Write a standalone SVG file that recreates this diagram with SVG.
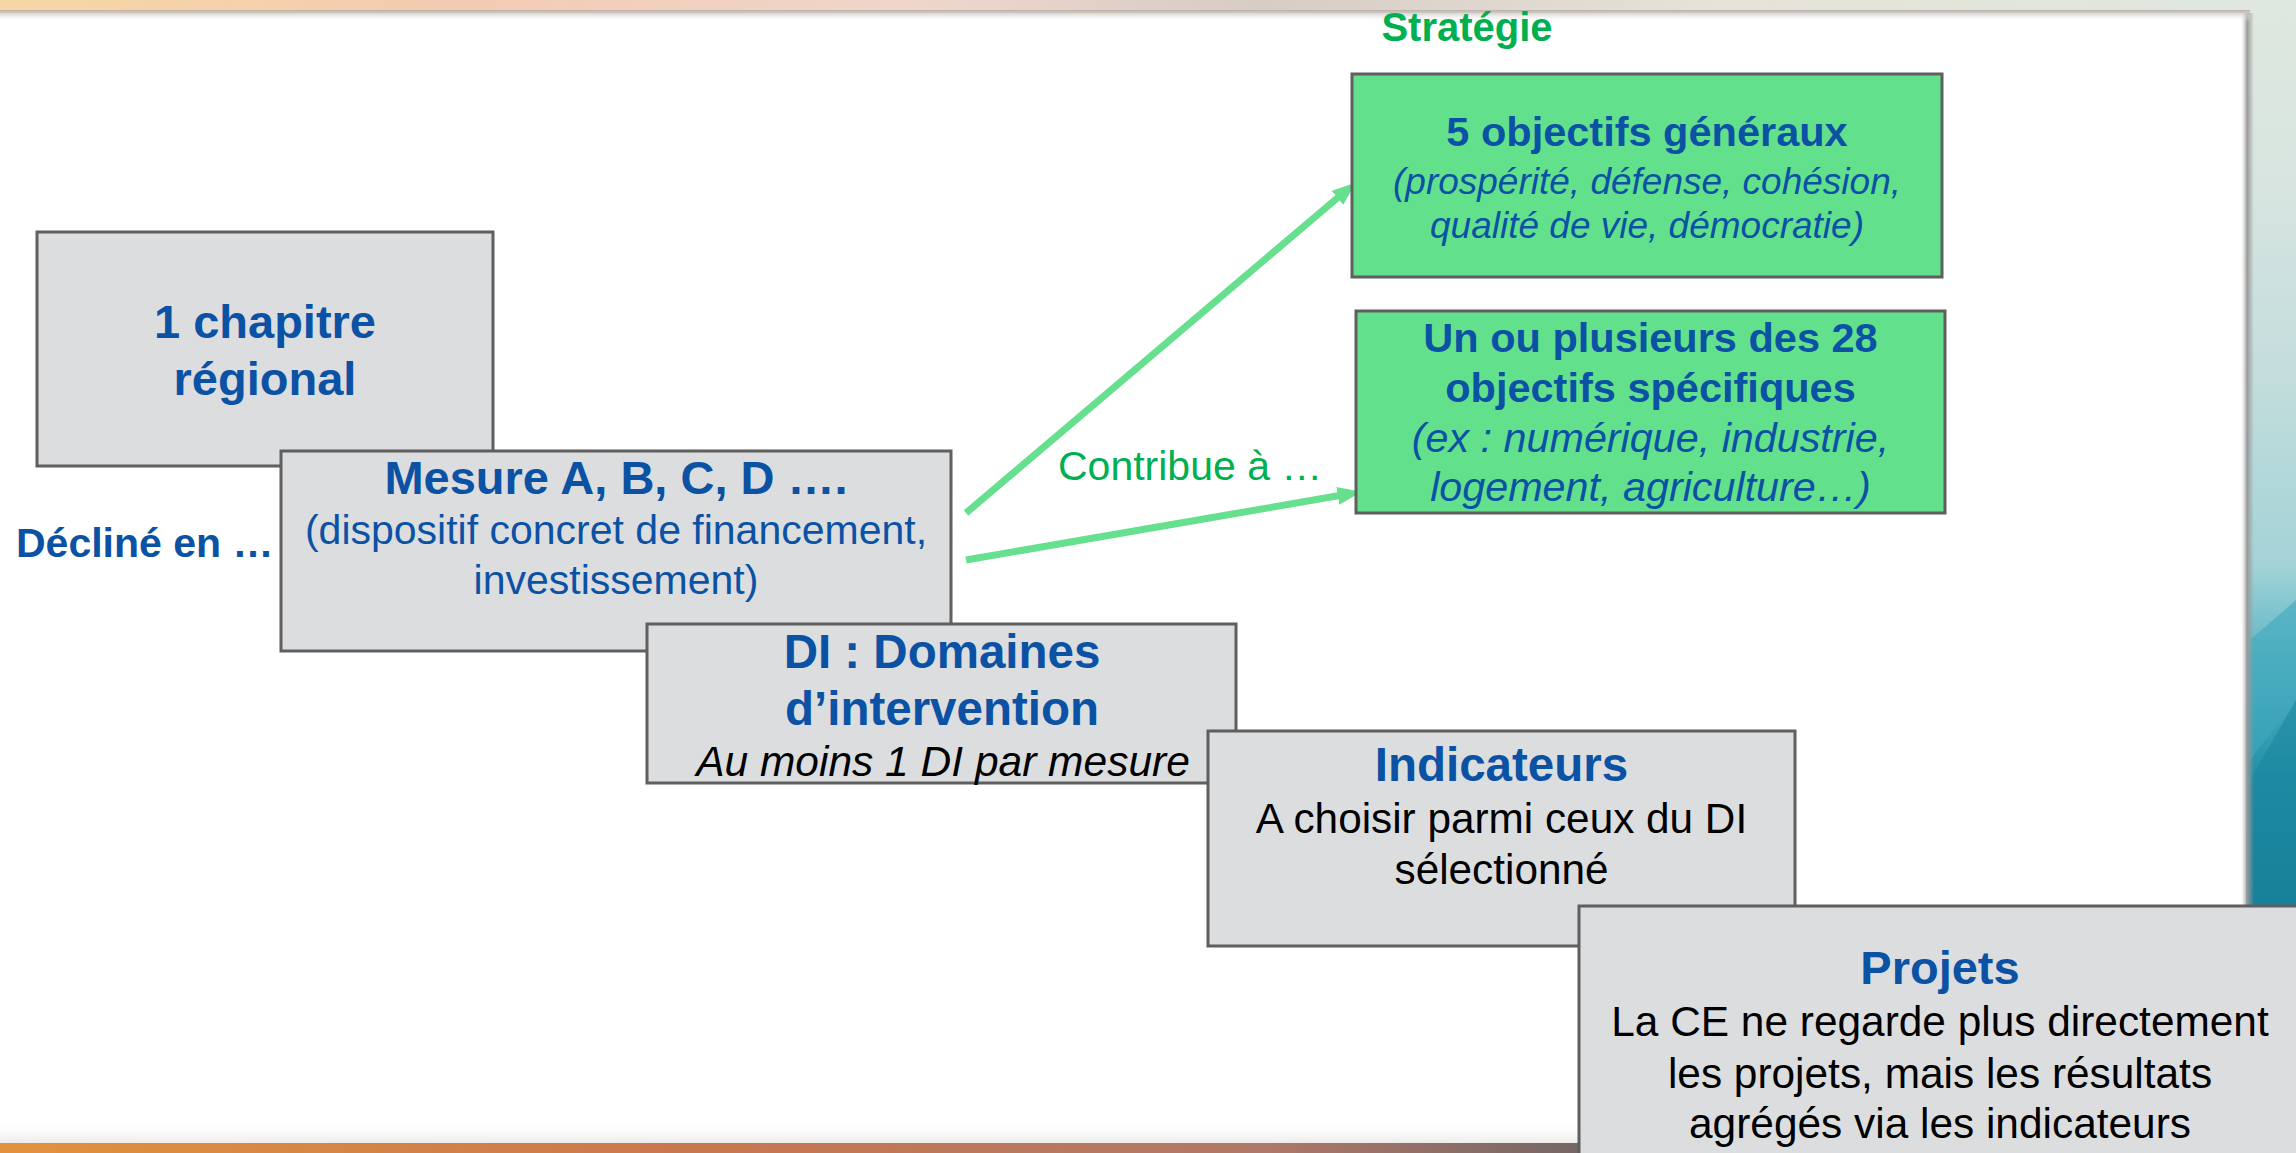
<svg xmlns="http://www.w3.org/2000/svg" width="2296" height="1153" viewBox="0 0 2296 1153">
<style>
  .box { fill: #dcdddf; stroke: #5f5f5f; stroke-width: 3; }
  .gbox { fill: #63e08b; stroke: #5f5f5f; stroke-width: 3; }
  text { font-family: "Liberation Sans", Arial, sans-serif; text-anchor: middle; }
  .hb { font-weight: bold; fill: #0b52a5; }
  .bl { fill: #0b52a5; }
  .it { font-style: italic; }
  .blk { fill: #000000; }
  .gr { fill: #00b050; }
  .conn { stroke: #66e08e; stroke-width: 7; fill: none; }
</style>
<defs>
  <linearGradient id="topband" x1="0" y1="0" x2="1" y2="0">
    <stop offset="0" stop-color="#f6d7a4"/>
    <stop offset="0.2" stop-color="#f3cbb2"/>
    <stop offset="0.4" stop-color="#efd6cc"/>
    <stop offset="0.55" stop-color="#d8ccc6"/>
    <stop offset="0.75" stop-color="#e6e3d8"/>
    <stop offset="1" stop-color="#dfe8e0"/>
  </linearGradient>
  <linearGradient id="topshade" x1="0" y1="0" x2="0" y2="1">
    <stop offset="0" stop-color="#b9b2ac"/>
    <stop offset="1" stop-color="#ffffff" stop-opacity="0"/>
  </linearGradient>
  <linearGradient id="botband" x1="0" y1="0" x2="1" y2="0">
    <stop offset="0" stop-color="#e2923e"/>
    <stop offset="0.3" stop-color="#c8784e"/>
    <stop offset="0.55" stop-color="#b07868"/>
    <stop offset="0.75" stop-color="#5a5e66"/>
    <stop offset="1" stop-color="#4c5a66"/>
  </linearGradient>
  <linearGradient id="botshade" x1="0" y1="0" x2="0" y2="1">
    <stop offset="0" stop-color="#ffffff" stop-opacity="0"/>
    <stop offset="1" stop-color="#c8c4c0"/>
  </linearGradient>
  <linearGradient id="rightside" x1="0" y1="0" x2="0" y2="1">
    <stop offset="0" stop-color="#dfe8df"/>
    <stop offset="0.22" stop-color="#d6e4e0"/>
    <stop offset="0.42" stop-color="#c2dddc"/>
    <stop offset="0.62" stop-color="#a4d3d7"/>
    <stop offset="0.72" stop-color="#5eb7c6"/>
    <stop offset="0.85" stop-color="#2291a7"/>
    <stop offset="1" stop-color="#147a90"/>
  </linearGradient>
  <linearGradient id="rshade" x1="0" y1="0" x2="1" y2="0">
    <stop offset="0" stop-color="#ffffff" stop-opacity="0"/>
    <stop offset="0.5" stop-color="#9a9a9a"/>
    <stop offset="1" stop-color="#9a9a9a" stop-opacity="0"/>
  </linearGradient>
  <marker id="arr" markerUnits="userSpaceOnUse" markerWidth="24" markerHeight="20" viewBox="0 0 24 20" refX="9" refY="10" orient="auto">
    <path d="M0,1 L24,10 L0,19 z" fill="#66e08e"/>
  </marker>
</defs>

<!-- background slide decoration -->
<rect x="0" y="0" width="2296" height="1153" fill="#ffffff"/>
<rect x="2246" y="0" width="50" height="910" fill="url(#rightside)"/>
<polygon points="2250,640 2296,600 2296,700 2250,760" fill="#3fa8bc" opacity="0.6"/>
<polygon points="2250,780 2296,700 2296,906 2250,906" fill="#1b86a0" opacity="0.6"/>
<rect x="2240" y="10" width="14" height="900" fill="url(#rshade)"/>
<rect x="0" y="0" width="2296" height="13" fill="url(#topband)"/>
<rect x="0" y="10" width="2250" height="12" fill="url(#topshade)"/>
<rect x="0" y="1120" width="2296" height="24" fill="url(#botshade)" opacity="0.35"/>
<rect x="0" y="1143" width="2296" height="10" fill="url(#botband)"/>

<text id="label-strategie" x="1467" y="41" class="gr" font-size="40" font-weight="bold">Stratégie</text>

<!-- connectors -->
<g id="connectors">
  <line class="conn" x1="966" y1="513" x2="1344.3" y2="192.1" marker-end="url(#arr)"/>
  <line class="conn" x1="966" y1="560" x2="1346.7" y2="494.3" marker-end="url(#arr)"/>
  <text x="1058" y="480" class="gr" font-size="41" style="text-anchor:start">Contribue à …</text>
</g>

<g id="node-objectifs-generaux">
  <rect class="gbox" x="1352" y="74" width="590" height="203"/>
  <text x="1647" y="146" class="hb" font-size="41.5">5 objectifs généraux</text>
  <text x="1647" y="194" class="bl it" font-size="37">(prospérité, défense, cohésion,</text>
  <text x="1647" y="238" class="bl it" font-size="37">qualité de vie, démocratie)</text>
</g>

<g id="node-objectifs-specifiques">
  <rect class="gbox" x="1356" y="311" width="589" height="202"/>
  <text x="1650.5" y="352" class="hb" font-size="41.5">Un ou plusieurs des 28</text>
  <text x="1650.5" y="402" class="hb" font-size="41.5">objectifs spécifiques</text>
  <text x="1650.5" y="452" class="bl it" font-size="41.3">(ex : numérique, industrie,</text>
  <text x="1650.5" y="501" class="bl it" font-size="41.3">logement, agriculture…)</text>
</g>

<g id="node-chapitre">
  <rect class="box" x="37" y="232" width="456" height="234"/>
  <text x="265" y="338" class="hb" font-size="47">1 chapitre</text>
  <text x="265" y="395" class="hb" font-size="47">régional</text>
</g>

<text id="label-decline" x="16" y="557" class="hb" font-size="41" style="text-anchor:start">Décliné en …</text>

<g id="node-mesure">
  <rect class="box" x="281" y="451" width="670" height="200"/>
  <text x="616" y="494" class="hb" font-size="47">Mesure A, B, C, D ….</text>
  <text x="616" y="544" class="bl" font-size="41">(dispositif concret de financement,</text>
  <text x="616" y="594" class="bl" font-size="41">investissement)</text>
</g>

<g id="node-di">
  <rect class="box" x="647" y="624" width="589" height="159"/>
  <text x="942" y="668" class="hb" font-size="47.5">DI : Domaines</text>
  <text x="942" y="725" class="hb" font-size="47.5">d’intervention</text>
  <text x="943" y="776" class="blk it" font-size="42.5">Au moins 1 DI par mesure</text>
</g>

<g id="node-indicateurs">
  <rect class="box" x="1208" y="731" width="587" height="215"/>
  <text x="1501.5" y="781" class="hb" font-size="47.5">Indicateurs</text>
  <text x="1501.5" y="833" class="blk" font-size="42.3">A choisir parmi ceux du DI</text>
  <text x="1501.5" y="884" class="blk" font-size="42.3">sélectionné</text>
</g>

<g id="node-projets">
  <rect class="box" x="1579" y="906" width="730" height="260"/>
  <text x="1940" y="984" class="hb" font-size="47">Projets</text>
  <text x="1940" y="1036" class="blk" font-size="42.4">La CE ne regarde plus directement</text>
  <text x="1940" y="1088" class="blk" font-size="42.4">les projets, mais les résultats</text>
  <text x="1940" y="1138" class="blk" font-size="42.4">agrégés via les indicateurs</text>
</g>
</svg>
